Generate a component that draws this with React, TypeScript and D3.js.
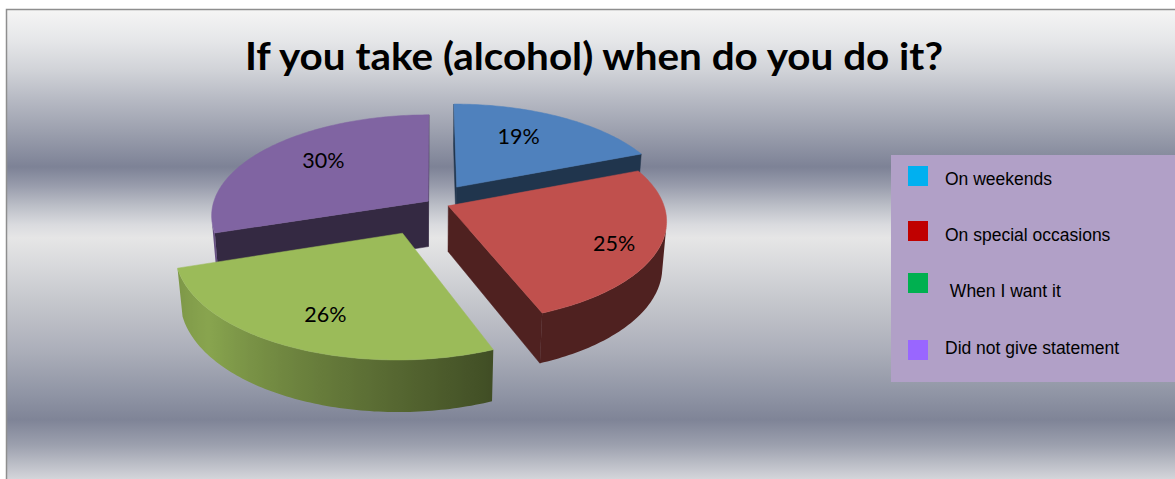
import React from "react";
import * as d3 from "d3";

const title = "If you take (alcohol) when do you do it?";
const categories = ["On weekends", "On special occasions", " When I want it", "Did not give statement"];
const values = [19, 25, 26, 30];
const sliceColors = ["#4F81BD", "#C0504D", "#9BBB59", "#8064A2"];
const legendColors = ["#00B0F0", "#C00000", "#00B050", "#9966FF"];
const explode = [0.197, 0.075, 0.324, 0.03];
const labelRadius = [0.66, 0.81, 0.74, 0.68];
const labelAngleShift = [-4.5, 3, -1.7, 4];

const W = 1175;
const HH = 479;

// 3D camera (fitted to the reference view)
const cam = { cx: 433.43, cy: 214.47, k: 218.42, D: 6.095, phi: 0.488, H: 0.243, Zc: -0.115 };

function projector() {
  const s = Math.sin(cam.phi), c = Math.cos(cam.phi);
  const f = cam.k * cam.D;
  return (X: number, Y: number, Z: number) => {
    const Zw = Z + cam.Zc;
    const depth = cam.D - Y * s - Zw * c;
    return [cam.cx + (f * X) / depth, cam.cy - (f * (Y * c - Zw * s)) / depth, depth];
  };
}

const arcs = d3.pie<number>().sort(null).value((d) => d)(values);

const sideShade = d3
  .scaleLinear()
  .domain([0, 158, 180, 230, 252, 300, 360])
  .range([0.41, 0.41, 0.55, 0.88, 0.8, 0.6, 0.41])
  .clamp(true);

function shade(color: string, k: number) {
  const c = d3.rgb(color);
  return d3.rgb(c.r * k, c.g * k, c.b * k).formatHex();
}

const bgStops: [number, string][] = [
  [9, "#f5f5f5"], [40, "#e6e7e9"], [70, "#d1d3d8"], [100, "#b6b9c3"], [130, "#9da1af"],
  [167, "#7d8296"], [185, "#979bab"], [205, "#babdc6"], [225, "#dadbdf"], [238, "#e6e6e6"],
  [265, "#d8d9dc"], [300, "#c6c8cd"], [350, "#acafba"], [395, "#8f94a4"], [420, "#7f8497"],
  [445, "#9ca0ae"], [479, "#d4d5da"],
];

const legendMarkerY = [166, 221, 273, 340];
const legendTextY = [185, 241, 297, 354];

export default function App() {
  const pr = projector();
  const camW = [0, cam.D * Math.sin(cam.phi), cam.D * Math.cos(cam.phi)];
  const pathOf = (pts: number[][]) =>
    "M" + pts.map((q) => q[0].toFixed(2) + "," + q[1].toFixed(2)).join("L") + "Z";

  type Face = { d: string; fill: string; grad?: { id: string; x0: number; x1: number; stops: [number, string][] } };

  const slices = arcs.map((a, i) => {
    const m = (a.startAngle + a.endAngle) / 2;
    const ax = explode[i] * Math.sin(m);
    const az = -explode[i] * Math.cos(m);
    const n = Math.max(8, Math.ceil(((a.endAngle - a.startAngle) * 180) / Math.PI));
    const angs = d3.range(n + 1).map((t) => a.startAngle + ((a.endAngle - a.startAngle) * t) / n);
    const rim = (ang: number, Y: number) => pr(ax + Math.sin(ang), Y, az - Math.cos(ang));
    const visible = (nx: number, nz: number, X: number, Y: number, Z: number) => {
      const vx = camW[0] - X, vz = camW[2] - (Z + cam.Zc);
      return nx * vx + nz * vz > 0;
    };
    const faces: Face[] = [];
    const cut = (ang: number, sign: number) => {
      const na = ang + (sign * Math.PI) / 2;
      const nx = Math.sin(na), nz = -Math.cos(na);
      const mx = ax + 0.5 * Math.sin(ang), mz = az - 0.5 * Math.cos(ang);
      if (visible(nx, nz, mx, -cam.H / 2, mz)) {
        faces.push({
          d: pathOf([pr(ax, 0, az), rim(ang, 0), rim(ang, -cam.H), pr(ax, -cam.H, az)]),
          fill: shade(sliceColors[i], 0.41),
        });
      }
    };
    cut(a.startAngle, -1);
    cut(a.endAngle, 1);
    // outer curved surface: visible angle samples
    const vis = angs.filter((g) => {
      const nx = Math.sin(g), nz = -Math.cos(g);
      return visible(nx, nz, ax + nx, -cam.H / 2, az + nz);
    });
    if (vis.length >= 2) {
      const topPts = vis.map((g) => rim(g, 0));
      const botPts = vis.map((g) => rim(g, -cam.H)).reverse();
      const xs = topPts.map((q) => q[0]);
      const x0 = d3.min(xs)!, x1 = d3.max(xs)!;
      const stops: [number, string][] = vis
        .map((g, j) => [(topPts[j][0] - x0) / Math.max(1, x1 - x0), shade(sliceColors[i], sideShade((g * 180) / Math.PI))] as [number, string])
        .sort((u, v) => u[0] - v[0]);
      const id = "side" + i;
      faces.push({ d: pathOf([...topPts, ...botPts]), fill: `url(#${id})`, grad: { id, x0, x1, stops } });
    }
    const top = [pr(ax, 0, az), ...angs.map((g) => rim(g, 0))];
    faces.push({ d: pathOf(top), fill: sliceColors[i] });
    const cdepth = pr(ax + 0.5 * Math.sin(m), 0, az - 0.5 * Math.cos(m))[2];
    const la = m + (labelAngleShift[i] * Math.PI) / 180;
    const lab = pr(ax + labelRadius[i] * Math.sin(la), 0, az - labelRadius[i] * Math.cos(la));
    return { faces, cdepth, lab, i };
  });
  const order = slices.slice().sort((u, v) => v.cdepth - u.cdepth);
  const total = d3.sum(values);
  const pct = d3.format(".0%");

  return (
    <svg width={W} height={HH} style={{ position: "absolute", left: 0, top: 0 }} xmlns="http://www.w3.org/2000/svg">
      <defs>
        <linearGradient id="bg" gradientUnits="userSpaceOnUse" x1={0} y1={9} x2={0} y2={479}>
          {bgStops.map(([y, c], j) => (
            <stop key={j} offset={(y - 9) / 470} stopColor={c} />
          ))}
        </linearGradient>
        {slices.flatMap((s) =>
          s.faces
            .filter((f) => f.grad)
            .map((f) => (
              <linearGradient key={f.grad!.id} id={f.grad!.id} gradientUnits="userSpaceOnUse" x1={f.grad!.x0} y1={0} x2={f.grad!.x1} y2={0}>
                {f.grad!.stops.map(([o, c], j) => (
                  <stop key={j} offset={o} stopColor={c} />
                ))}
              </linearGradient>
            ))
        )}
      </defs>
      <rect x={0} y={0} width={W} height={HH} fill="#ffffff" />
      <rect x={6.5} y={9.5} width={W} height={HH} fill="url(#bg)" stroke="#8e8e8e" strokeWidth={1.5} />
      <text
        x={594}
        y={70}
        textAnchor="middle"
        fontFamily="Lato, 'Open Sans', sans-serif"
        fontWeight={700}
        fontSize={38}
        textLength={698}
        lengthAdjust="spacingAndGlyphs"
        fill="#000"
      >
        {title}
      </text>
      {order.map((s) => (
        <g key={s.i}>
          {s.faces.map((f, j) => (
            <path key={j} d={f.d} fill={f.fill} stroke={f.grad ? "none" : f.fill} strokeWidth={0.5} strokeLinejoin="round" />
          ))}
        </g>
      ))}
      {slices.map((s) => (
        <text key={"l" + s.i} x={s.lab[0]} y={s.lab[1] + 7.5} textAnchor="middle" fontFamily="Lato, sans-serif" fontSize={21.5} fill="#000">
          {pct(values[s.i] / total)}
        </text>
      ))}
      <rect x={891} y={155} width={300} height={227} fill="#B1A0C7" />
      {categories.map((c, j) => (
        <g key={"lg" + j}>
          <rect x={908} y={legendMarkerY[j]} width={20} height={20} fill={legendColors[j]} />
          <text
            x={945}
            y={legendTextY[j]}
            fontFamily="'Liberation Sans', Arial, sans-serif"
            fontSize={17.5}
            fill="#000"
            style={{ whiteSpace: "pre" }}
          >
            {c}
          </text>
        </g>
      ))}
    </svg>
  );
}
